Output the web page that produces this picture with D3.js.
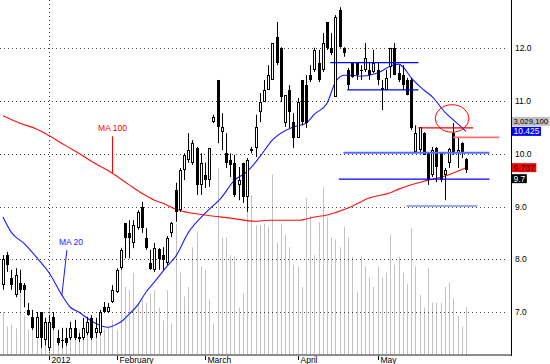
<!DOCTYPE html>
<html><head><meta charset="utf-8">
<script src="https://cdn.jsdelivr.net/npm/d3@7"></script>
<style>html,body{margin:0;padding:0;background:#fff;overflow:hidden}svg{display:block;font-family:"Liberation Sans",Arial,sans-serif}</style>
</head><body><svg id="c" width="550" height="364"></svg>
<script>
// ---------- data ----------
const opens = [7.51,8.08,7.65,7.32,7.55,7.51,7.04,6.91,6.51,7.00,
6.47,6.32,6.91,6.51,6.47,6.51,6.51,6.70,6.52,6.51,
6.60,6.89,6.60,6.60,7.09,7.00,7.19,7.38,7.83,8.69,
8.50,8.31,8.59,8.99,8.40,7.93,7.80,8.19,8.08,7.93,
8.50,9.31,8.93,9.69,9.88,9.83,10.11,9.41,9.60,9.50,
10.60,11.40,10.41,10.01,9.88,9.83,9.41,9.83,9.18,10.05,
10.11,10.79,10.98,11.21,11.40,12.21,12.01,10.58,11.21,10.60,
10.30,11.40,11.30,11.49,11.59,11.72,11.59,12.50,12.01,11.08,
12.73,12.01,11.59,11.72,11.72,11.59,11.59,11.59,11.55,11.59,
11.25,11.21,11.65,12.01,11.53,11.49,11.40,11.40,10.03,10.07,
10.39,10.01,9.60,10.11,10.01,9.60,9.83,10.39,10.01,10.20,
9.90];
const closes = [8.00,7.89,7.51,7.70,7.42,7.42,6.94,6.70,6.91,6.51,
6.81,6.81,6.70,6.41,6.46,6.41,6.70,6.51,6.53,6.70,
6.81,6.51,6.70,7.00,7.00,7.09,7.42,7.80,8.18,8.40,
8.40,8.65,8.90,8.59,8.21,7.82,8.21,8.00,7.99,8.40,
8.69,8.90,9.69,9.98,10.07,10.20,9.41,9.83,9.50,10.11,
10.70,10.51,10.51,9.83,9.79,9.22,9.50,9.18,9.88,10.09,
10.51,10.98,11.21,11.49,12.10,11.72,11.08,11.11,10.79,10.30,
10.98,10.60,10.58,11.40,11.97,11.40,12.10,12.01,11.91,12.59,
12.02,11.91,11.30,11.46,11.49,11.58,11.82,11.49,11.72,11.40,
11.21,11.44,12.01,11.49,11.40,11.30,11.11,10.49,10.39,10.51,
9.98,9.50,10.07,9.75,9.50,9.69,10.09,10.01,10.07,10.01,
9.69];
const highs = [8.08,8.14,7.80,7.83,7.80,7.55,7.17,7.04,7.00,7.00,
6.89,6.94,7.00,6.66,6.70,6.70,6.81,6.85,6.60,6.89,
6.91,6.94,6.89,7.04,7.19,7.17,7.51,7.83,8.21,8.69,
8.74,8.74,8.93,9.09,8.59,8.18,8.31,8.21,8.23,8.44,
8.71,9.45,9.73,10.01,10.39,10.26,10.13,10.01,9.83,10.11,
10.74,11.40,10.77,10.39,10.01,9.98,9.75,9.83,9.92,10.13,
10.74,11.15,11.40,11.68,12.10,12.50,12.02,11.11,11.30,10.77,
11.06,11.40,11.49,11.68,12.01,11.97,12.29,12.50,12.29,12.63,
12.78,12.02,11.63,11.74,11.74,11.68,12.10,11.74,11.97,11.74,
11.40,11.59,12.01,12.10,11.68,11.68,11.44,11.44,10.54,10.51,
10.41,10.03,10.13,10.13,10.03,9.73,10.11,10.58,10.32,10.22,
9.92];
const lows = [7.42,7.76,7.42,7.28,7.36,7.09,6.93,6.66,6.51,6.32,
6.37,6.26,6.66,6.37,6.32,6.36,6.47,6.47,6.43,6.47,
6.56,6.47,6.51,6.56,6.98,6.98,7.17,7.36,7.80,8.02,
8.02,8.21,8.56,8.50,8.18,7.80,7.76,7.80,7.80,7.89,
8.42,8.71,8.90,9.50,9.83,9.79,9.22,9.22,9.35,9.37,
10.58,10.20,10.07,9.73,9.56,9.18,9.12,9.07,8.90,10.01,
9.94,10.60,10.98,11.21,11.40,11.68,10.98,10.51,10.49,10.11,
10.30,10.54,10.49,11.36,11.55,11.36,11.55,11.97,11.87,11.08,
12.01,11.84,11.21,11.44,11.40,11.40,11.55,11.40,11.53,11.30,
10.83,11.21,11.44,11.49,11.36,11.21,11.11,10.45,10.01,10.03,
9.98,9.41,9.56,9.46,9.46,9.12,9.73,9.98,9.73,9.92,
9.64];
// volume in millions of shares
const volumes = [2.7,1.8,1.9,1.7,5.4,2.5,1.6,1.9,2.4,2.7,
1.8,3.0,1.6,1.1,1.5,1.4,2.2,1.6,1.6,1.1,
1.4,1.7,1.1,1.7,1.6,1.8,2.2,1.6,6.8,4.3,
4.1,5.2,3.3,3.5,3.3,3.9,4.1,3.0,2.2,4.1,
2.0,8.3,5.2,3.7,4.3,6.8,7.8,5.6,5.4,3.5,
2.0,11.8,7.4,7.4,6.3,6.2,3.0,3.9,11.0,10.1,
8.2,8.2,8.3,8.1,11.4,7.1,8.3,7.6,6.8,5.7,
5.6,4.3,9.9,8.8,6.3,8.4,10.6,8.7,7.4,7.3,
6.8,8.1,7.4,6.2,4.0,6.2,5.6,4.9,4.3,5.6,
4.9,5.2,7.6,5.7,6.2,5.2,4.5,8.0,5.6,3.8,
3.0,5.5,3.3,3.3,3.3,4.3,4.6,3.6,2.5,1.8,
3.0291];
// moving averages, read at bar indices
const ma20Idx = [0,2,5,9,11,14,16,18,21,23,25,27,28,30,32,34,36,39,41,44,48,52,55,58,61,64,69,72,74,77,79,81,83,85,89,92,94,95,97,100,102,105,108,110];
const ma20Val = [8.80,8.51,8.30,7.94,7.74,7.32,7.09,7.00,6.83,6.75,6.71,6.77,6.81,6.96,7.13,7.38,7.57,7.87,8.05,8.50,8.87,9.18,9.50,9.66,9.94,10.26,10.51,10.58,10.75,10.96,11.36,11.49,11.49,11.47,11.53,11.66,11.70,11.65,11.44,11.21,11.08,10.79,10.57,10.425];
const ma100Idx = [0,4,8,11,15,18,21,26,30,33,36,38,41,48,54,60,63,70,74,77,82,87,92,94,101,105,110];
const ma100Val = [10.72,10.58,10.47,10.34,10.15,10.01,9.86,9.63,9.41,9.25,9.12,9.06,8.95,8.84,8.78,8.72,8.74,8.74,8.80,8.84,8.97,9.16,9.26,9.33,9.50,9.58,9.737];
// axis ticks
const priceTicks = [7, 8, 9, 10, 11, 12];
const monthLabels = ["2012", "February", "March", "April", "May"];
const monthIdx = [11, 27, 48, 70, 89];
// drawn level lines: price, from bar index, to bar index
const levelPrice = [11.73, 11.21, 10.02, 9.52, 9.01, 10.49, 10.31];
const levelFrom  = [77.8, 81.8, 80.9, 79.8, 95.9, 98.7, 107.0];
const levelTo    = [98.7, 98.7, 115.6, 115.6, 112.7, 111.7, 117.9];
// circled area: bar index range, price range
const circleIdx = [102.7, 110.7];
const circlePrice = [10.41, 10.93];

// ---------- drawing ----------
const levelStyle = [
  {c:"#0000ff", w:1.3}, {c:"#0000ff", w:1.3}, {c:"#5b6cf6", w:1.8},
  {c:"#0000ff", w:1.3}, {c:"#7f8ef0", w:1.6}, {c:"#ff0000", w:1.3}, {c:"#ff7070", w:1.8}
];
const svg = d3.select("#c");
const plotRight = 511, axisY = 355;
const n = closes.length;
const x = d3.scaleLinear().domain([-0.7, 120.7]).range([0, plotRight]);
const y = d3.scaleLinear().domain([7, 12]).range([312, 48.3]);
const vy = d3.scaleLinear().domain([0, 12]).range([axisY, 165]);
const px = i => Math.round(x(i)) + 0.5;

// volume
svg.append("g").selectAll("line").data(d3.range(n)).join("line")
  .attr("x1", px).attr("x2", px)
  .attr("y1", axisY).attr("y2", i => vy(volumes[i]))
  .attr("stroke", "#c2c2c2").attr("stroke-width", 1);

// grid
svg.append("g").selectAll("line").data(priceTicks).join("line")
  .attr("x1", 0).attr("x2", 508)
  .attr("y1", d => Math.round(y(d)) + 0.5).attr("y2", d => Math.round(y(d)) + 0.5)
  .attr("stroke", "#444").attr("stroke-dasharray", "1,3");
svg.append("line")
  .attr("x1", px(monthIdx[0])).attr("x2", px(monthIdx[0]))
  .attr("y1", 0).attr("y2", axisY)
  .attr("stroke", "#444").attr("stroke-dasharray", "1,3");

// moving averages
const line = d3.line().x(d => x(d[0])).y(d => y(d[1])).curve(d3.curveMonotoneX);
svg.append("path").datum(d3.zip(ma100Idx, ma100Val)).attr("d", line)
  .attr("fill", "none").attr("stroke", "#ff1010").attr("stroke-width", 1.1);
svg.append("path").datum(d3.zip(ma20Idx, ma20Val)).attr("d", line)
  .attr("fill", "none").attr("stroke", "#1a1aff").attr("stroke-width", 1.1);

// candles
const cg = svg.append("g");
d3.range(n).forEach(i => {
  const cx = px(i);
  const o = opens[i], c = closes[i];
  cg.append("line").attr("x1", cx).attr("x2", cx)
    .attr("y1", y(highs[i])).attr("y2", y(lows[i]))
    .attr("stroke", "#000").attr("stroke-width", 1);
  const top = Math.round(y(Math.max(o, c)));
  const bot = Math.round(y(Math.min(o, c)));
  const h = Math.max(1, bot - top);
  if (c >= o) {
    cg.append("rect").attr("x", cx - 1).attr("y", top + 0.5)
      .attr("width", 2).attr("height", Math.max(1, h - 1))
      .attr("fill", "#fff").attr("stroke", "#000").attr("stroke-width", 1);
  } else {
    cg.append("rect").attr("x", cx - 1.5).attr("y", top)
      .attr("width", 3).attr("height", h)
      .attr("fill", "#000").attr("shape-rendering", "crispEdges");
  }
});

// level lines
svg.append("g").selectAll("line").data(d3.range(levelPrice.length)).join("line")
  .attr("x1", k => x(levelFrom[k])).attr("x2", k => x(levelTo[k]))
  .attr("y1", k => y(levelPrice[k])).attr("y2", k => y(levelPrice[k]))
  .attr("stroke", k => levelStyle[k].c).attr("stroke-width", k => levelStyle[k].w);
// circle
svg.append("ellipse")
  .attr("cx", (x(circleIdx[0]) + x(circleIdx[1])) / 2)
  .attr("cy", (y(circlePrice[0]) + y(circlePrice[1])) / 2)
  .attr("rx", (x(circleIdx[1]) - x(circleIdx[0])) / 2)
  .attr("ry", (y(circlePrice[0]) - y(circlePrice[1])) / 2)
  .attr("fill", "none").attr("stroke", "#ff0000").attr("stroke-width", 1);

// MA labels with pointers
const ma100At = 26, ma20At = 14;
const interp = (idx, val, i) => d3.scaleLinear().domain(idx).range(val)(i);
{
  const lx = px(ma100At), ly = y(interp(ma100Idx, ma100Val, ma100At));
  svg.append("line").attr("x1", lx).attr("x2", lx).attr("y1", ly).attr("y2", ly - 37)
    .attr("stroke", "#ff0000");
  svg.append("text").attr("x", lx).attr("y", ly - 42).attr("text-anchor", "middle")
    .attr("font-size", 8.5).attr("fill", "#ff0000").text("MA 100");
}
{
  const lx = x(ma20At), ly = y(interp(ma20Idx, ma20Val, ma20At));
  svg.append("line").attr("x1", lx).attr("x2", lx + 5).attr("y1", ly).attr("y2", ly - 45)
    .attr("stroke", "#1a1aff");
  svg.append("text").attr("x", lx - 3).attr("y", ly - 50)
    .attr("font-size", 8.5).attr("fill", "#1a1aff").text("MA 20");
}

// axes frame
svg.append("rect").attr("x", 0).attr("y", axisY - 1).attr("width", plotRight).attr("height", 2).attr("fill", "#8c8c8c");
svg.append("line").attr("x1", plotRight + 0.5).attr("x2", plotRight + 0.5).attr("y1", 0).attr("y2", axisY + 1)
  .attr("stroke", "#000");

// right price labels
svg.append("g").selectAll("text").data(priceTicks).join("text")
  .attr("x", 515).attr("y", d => y(d) + 3)
  .attr("font-size", 8.5).attr("fill", "#000").text(d => d3.format(".1f")(d));

// month labels
monthIdx.forEach((mi, k) => {
  const tx = px(mi);
  svg.append("line").attr("x1", tx).attr("x2", tx).attr("y1", axisY + 1).attr("y2", axisY + 5).attr("stroke", "#000");
  svg.append("text").attr("x", tx + 2).attr("y", 363).attr("font-size", 8.5).attr("fill", "#000").text(monthLabels[k]);
});

// value tags on the right
function tag(cy, txt, bg, fg, fs) {
  const t = svg.append("text").attr("x", 513.5).attr("y", cy + 3).attr("font-size", fs || 8.5).attr("fill", fg).text(txt);
  const w = t.node().getComputedTextLength();
  svg.insert("rect", () => t.node()).attr("x", 512).attr("y", cy - 4.5).attr("width", Math.min(w + 3, 550 - 512)).attr("height", 9).attr("fill", bg);
}
const yMa20 = y(ma20Val[ma20Val.length - 1]);
const yMa100 = y(ma100Val[ma100Val.length - 1]);
tag(yMa20, d3.format(",.3f")(ma20Val[ma20Val.length - 1]), "#0000ff", "#fff");
tag(yMa20 - 10, d3.format(",")(Math.round(volumes[n - 1] * 1e6)), "#c0c0c0", "#000", 7.8);
tag(yMa100, d3.format(".3f")(ma100Val[ma100Val.length - 1]), "#ff0000", "#000");
tag(Math.max(y(closes[n - 1]), yMa100 + 11), d3.format(".1f")(closes[n - 1]), "#000", "#fff");
</script></body></html>
